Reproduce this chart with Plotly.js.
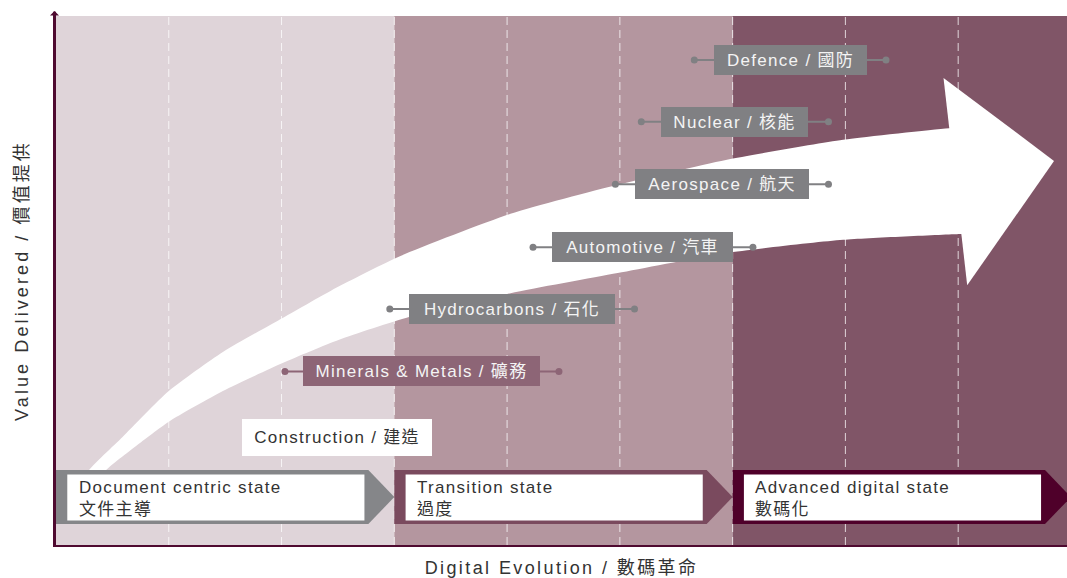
<!DOCTYPE html>
<html><head><meta charset="utf-8">
<script src="https://cdn.plot.ly/plotly-3.0.1.min.js"></script>
<style>
html,body{margin:0;padding:0;background:#fff;}
#chart{width:1067px;height:578px;}
.annotation-text{letter-spacing:1.3px;}
.xtitle{letter-spacing:2.4px;}
.ytitle{letter-spacing:3.1px;}
</style></head><body><div id="chart"></div>
<script>
// ---- data ----
const stageNames = ['Document centric state', 'Transition state', 'Advanced digital state'];
const stageNamesZh = ['文件主導', '過度', '數碼化'];
const stageStart = [0, 3, 6];
const stageEnd = [3, 6, 9];

const industries = ['Construction / 建造', 'Minerals & Metals / 礦務', 'Hydrocarbons / 石化',
  'Automotive / 汽車', 'Aerospace / 航天', 'Nuclear / 核能', 'Defence / 國防'];
const industryStart = [1.65, 2.03, 2.96, 4.23, 4.96, 5.19, 5.66];
const industryEnd = [3.34, 4.46, 5.13, 6.18, 6.85, 6.85, 7.36];
const industryLevel = [20.4, 32.8, 44.6, 56.3, 68.2, 80.0, 91.7];

// shaft of the big "value" arrow: upper edge (tail -> head), then lower edge (head -> tail)
const shaftX = [0.20, 0.28, 0.59, 1.00, 1.48, 2.01, 2.51, 3.05, 4.03, 4.98, 5.94, 6.98, 7.92, 8.30,
  8.30, 8.02, 6.98, 5.94, 4.98, 4.03, 3.13, 2.51, 2.01, 1.48, 1.00, 0.71, 0.43, 0.35, 0.20];
const shaftY = [10.0, 13.8, 20.4, 29.1, 36.5, 42.9, 48.9, 54.6, 62.6, 68.1, 72.8, 76.6, 78.8, 79.3,
  59.0, 58.8, 57.7, 55.2, 51.4, 47.6, 43.1, 38.8, 34.4, 29.1, 23.3, 18.7, 13.8, 10.0, 10.0];
// head of the big arrow
const headX = [7.87, 8.85, 8.08, 7.87];
const headY = [88.3, 72.6, 49.1, 88.3];

const xTitle = 'Digital Evolution / 數碼革命';
const yTitle = 'Value Delivered / 價值提供';

// ---- styles ----
const FONT = '"Liberation Sans", Arial, "Noto Sans CJK TC", sans-serif';
const regionColors = ['#DFD4D9', '#B4969F', '#805567'];
const chevronColors = ['#858689', '#7A4A5E', '#4F002A'];
const axisColor = '#4F0A30';
const boxColors = ['#FFFFFF', '#8D6576', '#808083', '#808083', '#808083', '#808083', '#808083'];
const boxText = ['#333333', '#F4F4F4', '#F4F4F4', '#F4F4F4', '#F4F4F4', '#F4F4F4', '#F4F4F4'];
const boxW = [190, 237, 206, 181, 174, 147, 153];
const boxH = [37, 30, 30, 30, 30, 30, 30];
const showWhisker = [false, true, true, true, true, true, true];

const shapes = [];
const traces = [];
const annotations = [];

stageStart.forEach((s, i) => {
  shapes.push({type: 'rect', layer: 'below', xref: 'x', yref: 'y', x0: s, x1: stageEnd[i], y0: 0, y1: 100,
    fillcolor: regionColors[i], line: {width: 0}});
});
for (let k = 1; k <= 8; k++) {
  shapes.push({type: 'line', layer: 'below', xref: 'x', yref: 'y', x0: k, x1: k, y0: 0, y1: 100,
    line: {color: 'rgba(255,255,255,0.75)', width: 1, dash: '8px,5px'}});
}

// big arrow
traces.push({type: 'scatter', mode: 'lines', x: shaftX, y: shaftY, fill: 'toself',
  fillcolor: '#FFFFFF', line: {width: 0, color: '#FFFFFF', shape: 'spline', smoothing: 0.6},
  hoverinfo: 'skip', showlegend: false});
traces.push({type: 'scatter', mode: 'lines', x: headX, y: headY, fill: 'toself',
  fillcolor: '#FFFFFF', line: {width: 0, color: '#FFFFFF'}, hoverinfo: 'skip', showlegend: false});

// whiskers
industries.forEach((name, i) => {
  if (!showWhisker[i]) return;
  traces.push({type: 'scatter', mode: 'lines+markers', x: [industryStart[i], industryEnd[i]],
    y: [industryLevel[i], industryLevel[i]], line: {color: boxColors[i], width: 2},
    marker: {color: boxColors[i], size: 7}, hoverinfo: 'skip', showlegend: false});
});

// stage chevrons
const chTop = 14.18, chBot = 3.97, chMid = 9.07;
stageStart.forEach((s, i) => {
  const w = stageEnd[i] - s;
  traces.push({type: 'scatter', mode: 'lines', fill: 'toself', fillcolor: chevronColors[i],
    x: [s, s + w - 0.23, s + w, s + w - 0.23, s, s],
    y: [chTop, chTop, chMid, chBot, chBot, chTop],
    line: {width: 0, color: chevronColors[i]}, hoverinfo: 'skip', showlegend: false});
  shapes.push({type: 'rect', layer: 'above', xref: 'x', yref: 'y', x0: s + 0.1, x1: s + 2.735,
    y0: 4.63, y1: 13.33, fillcolor: '#FFFFFF', line: {width: 0}});
  annotations.push({xref: 'x', yref: 'y', x: s + 0.185, y: 8.75, xanchor: 'left', yanchor: 'middle',
    align: 'left', showarrow: false, text: stageNames[i] + '<br>' + stageNamesZh[i],
    font: {family: FONT, size: 17, color: '#333333'}});
});

// industry labels
industries.forEach((name, i) => {
  annotations.push({xref: 'x', yref: 'y', x: (industryStart[i] + industryEnd[i]) / 2, y: industryLevel[i],
    xanchor: 'center', yanchor: 'middle', showarrow: false, text: name,
    bgcolor: boxColors[i], borderpad: 0, borderwidth: 0, width: boxW[i], height: boxH[i],
    align: 'center', valign: 'middle',
    font: {family: FONT, size: 17, color: boxText[i]}});
});

// arrow head on the value axis
annotations.push({xref: 'paper', yref: 'paper', x: 0, y: 1.0095, xshift: -1.5, ax: 0, ay: 10,
  showarrow: true, arrowhead: 1, arrowsize: 0.5, arrowwidth: 3, arrowcolor: axisColor, text: '', standoff: 0});

const layout = {
  width: 1067, height: 578,
  margin: {l: 56, r: 0, t: 16, b: 33},
  paper_bgcolor: '#FFFFFF', plot_bgcolor: '#FFFFFF',
  showlegend: false,
  font: {family: FONT, color: '#333333'},
  xaxis: {range: [0, 8.965], showline: true, linecolor: axisColor, linewidth: 2,
    showticklabels: false, ticks: '', showgrid: false, zeroline: false, fixedrange: true,
    title: {text: xTitle, font: {family: FONT, size: 18, color: '#333333'}, standoff: 16}},
  yaxis: {range: [0, 100], showline: true, linecolor: axisColor, linewidth: 3,
    showticklabels: false, ticks: '', showgrid: false, zeroline: false, fixedrange: true,
    title: {text: yTitle, font: {family: FONT, size: 18, color: '#333333'}, standoff: 20}},
  shapes: shapes,
  annotations: annotations
};

Plotly.newPlot('chart', traces, layout, {displayModeBar: false, staticPlot: true});
</script></body></html>
